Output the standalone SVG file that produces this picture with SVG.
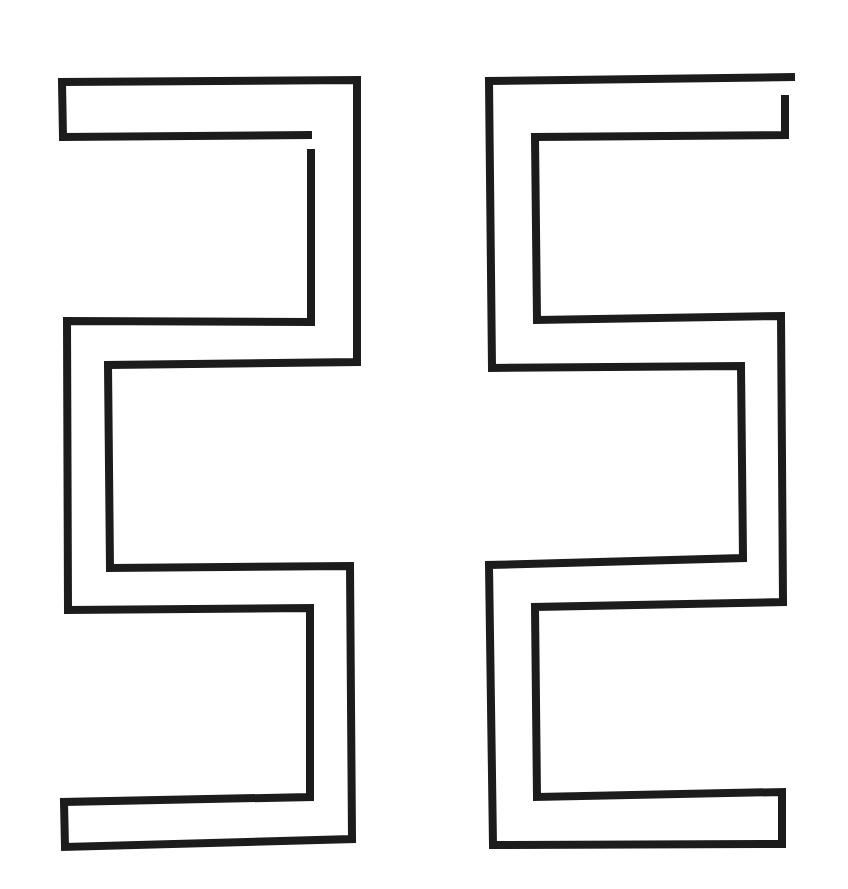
<svg xmlns="http://www.w3.org/2000/svg" width="848" height="889" viewBox="0 0 848 889">
<style>
.m{fill:none;stroke:#1c1c1c;stroke-width:8;stroke-linejoin:miter;stroke-linecap:butt}
</style>
<rect width="848" height="889" fill="#ffffff"/>
<g id="left-meander">
<path class="m" d="M311,149 L311,322 L67,321 L68,610 L310,608 L310,797 L64,802 L65,847 L352,839 L350,566 L110,568 L108,365 L357,362 L357,80 L62,82 L63,137 L312,135"/>
</g>
<g id="right-meander">
<path class="m" d="M785,95 L785,135 L535,137 L537,320 L781,316 L783,602 L535,607 L537,797 L782,792 L782,844 L493,845 L489,565 L743,558 L741,366 L492,368 L489,81 L795,77"/>
</g>
</svg>
